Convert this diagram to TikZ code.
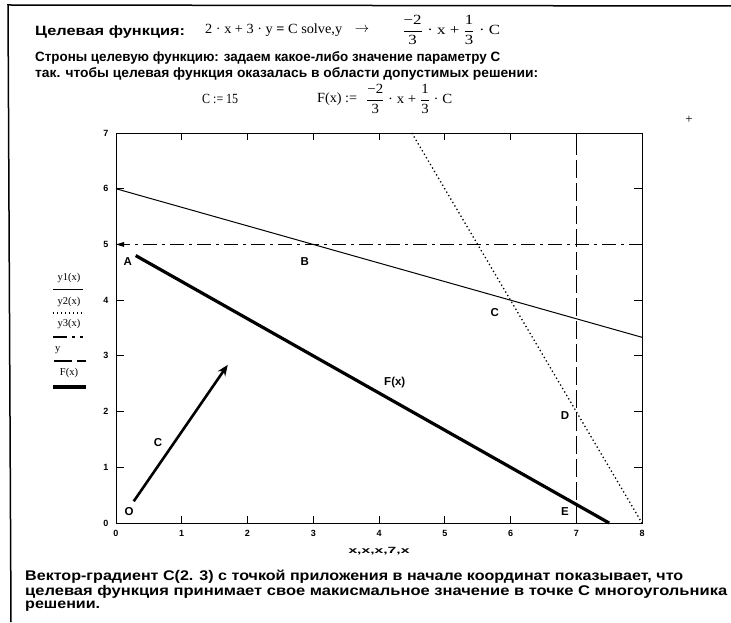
\documentclass[tikz,border=0pt]{standalone}
\usepackage{fontspec}
\usepackage{graphicx}
\setmainfont{Liberation Serif}
\newfontfamily\rus{Liberation Sans}
\usetikzlibrary{arrows.meta}
\newcommand\mfrac[2]{$\displaystyle\frac{\hbox{#1}}{\hbox{#2}}$}
\newcommand\fitw[2]{\resizebox{#1}{\height}{#2}}
\tikzset{
  rustxt/.style={font=\rus\bfseries\fontsize{13.5}{15}\selectfont, anchor=west, inner sep=0pt},
  bottxt/.style={font=\rus\bfseries\fontsize{14}{16}\selectfont, anchor=west, inner sep=0pt},
  mathtxt/.style={font=\fontsize{14}{16}\selectfont, anchor=west, inner sep=0pt},
  ticklbl/.style={font=\rus\bfseries\fontsize{9}{10}\selectfont, inner sep=0pt},
  ptlbl/.style={font=\rus\bfseries\fontsize{11.5}{12}\selectfont, inner sep=0pt},
  leglbl/.style={font=\fontsize{10.5}{12}\selectfont, inner sep=0pt},
  lineA/.style={line width=1pt},
  lineB/.style={line width=1.3pt, dash pattern=on 1.3pt off 2.7pt},
  lineC/.style={line width=1.3pt, dash pattern=on 14pt off 5pt on 3pt off 5pt},
  lineD/.style={line width=1.3pt, dash pattern=on 18pt off 5pt},
  lineF/.style={line width=3.2pt},
}
\begin{document}
\begin{tikzpicture}[x=1pt,y=1pt]
\useasboundingbox (0,0) rectangle (731,622);
\fill[white] (0,0) rectangle (731,622);
% page frame
\coordinate (tl) at (8,617);
\coordinate (tr) at (731,616);
\coordinate (bl) at (11,0);
\draw[line width=1.5pt] (tr) -- (tl) -- (bl);

% top text
\node[rustxt] (t1) at (35,590) {\fitw{150pt}{Целевая функция:}};
\node[mathtxt] (m1a) at (205,592) {\fitw{137pt}{2 · x + 3 · y \textbf{=} C solve,y}};
\node[mathtxt, anchor=center] (m1b) at (362,592) {$\rightarrow$};
\node[mathtxt] (m1c) at (402,592) {\fitw{98pt}{\mfrac{−2}{3} · x + \mfrac{1}{3} · C}};
\node[rustxt] (t2) at (35,564) {\fitw{465pt}{Строны целевую функцию: задаем какое-либо значение параметру С}};
\node[rustxt] (t3) at (35,548) {\fitw{503pt}{так. чтобы целевая функция оказалась в области допустимых решении:}};
\node[mathtxt] (m2) at (202,523) {\fitw{36pt}{C := 15}};
\node[mathtxt] (m3a) at (317,523) {\fitw{40pt}{F(x) :=}};
\node[mathtxt] (m3b) at (366,523) {\fitw{86pt}{\mfrac{−2}{3} · x + \mfrac{1}{3} · C}};
\node[font=\fontsize{13}{14}\selectfont, inner sep=0pt] (plus) at (689,502) {+};

% legend
\node[leglbl] (l1) at (69,344) {y1(x)};
\coordinate (l1a) at (53,332); \coordinate (l1b) at (83,332);
\draw[lineA] (l1a) -- (l1b);
\node[leglbl] (l2) at (69,320) {y2(x)};
\coordinate (l2a) at (53,309); \coordinate (l2b) at (83,309);
\draw[lineB] (l2a) -- (l2b);
\node[leglbl] (l3) at (69,298) {y3(x)};
\coordinate (l3a) at (53,285); \coordinate (l3b) at (83,285);
\draw[lineC] (l3a) -- (l3b);
\node[leglbl, anchor=west] (l4) at (55,272) {y};
\coordinate (l4a) at (54,261); \coordinate (l4b) at (86,261);
\draw[lineD] (l4a) -- (l4b);
\node[leglbl] (l5) at (69,249) {F(x)};
\coordinate (l5a) at (53,235); \coordinate (l5b) at (86,235);
\draw[lineF] (l5a) -- (l5b);

% plot
\begin{scope}[shift={(116,99)}, x=65.75pt, y=55.71pt]
  \draw[line width=1pt] (0,0) rectangle (8,7);
  \foreach \i in {1,...,7} {
    \draw[line width=0.9pt] (\i,0) -- ++(0,7pt);
    \draw[line width=0.9pt] (\i,7) -- ++(0,-7pt);
  }
  \foreach \j in {1,...,6} {
    \draw[line width=0.9pt] (0,\j) -- ++(8pt,0);
    \draw[line width=0.9pt] (8,\j) -- ++(-8pt,0);
  }
  \foreach \i in {0,...,8} { \node[ticklbl] (xt\i) at (\i,-10pt) {\i}; }
  \foreach \j in {0,...,7} { \node[ticklbl] (yt\j) at (-10pt,\j) {\j}; }
  \node[ticklbl] (xtitle) at (4,-28pt) {\fitw{61pt}{x,x,x,7,x}};

  % y1
  \coordinate (a1) at (0,6); \coordinate (b1) at (8,10/3);
  \draw[lineA] (a1) -- (b1);
  % y2
  \coordinate (a2) at (4.5,7); \coordinate (b2) at (8,0);
  \draw[lineB] (a2) -- (b2);
  % y3
  \coordinate (a3) at (0,5); \coordinate (b3) at (8,5);
  \draw[lineC] (a3) -- (b3);
  \fill (a3) -- ++(8pt,2.5pt) -- ++(0,-5pt) -- cycle;
  % x = 7
  \coordinate (a4) at (7,0); \coordinate (b4) at (7,7);
  \draw[lineD] (a4) -- (b4);
  % F(x)
  \coordinate (a5) at (0.3,4.8); \coordinate (b5) at (7.5,0);
  \draw[lineF] (a5) -- (b5);
  % gradient
  \coordinate (g0) at (0.27,0.39); \coordinate (g1) at (1.70,2.84);
  \draw[line width=2.6pt, -{Stealth[length=11pt,width=9pt]}] (g0) -- (g1);

  \node[ptlbl] (pA) at (0.18,4.70) {A};
  \node[ptlbl] (pB) at (2.87,4.70) {B};
  \node[ptlbl] (pC) at (5.76,3.77) {C};
  \node[ptlbl] (pD) at (6.83,1.92) {D};
  \node[ptlbl] (pE) at (6.83,0.20) {E};
  \node[ptlbl] (pO) at (0.20,0.20) {O};
  \node[ptlbl] (pG) at (0.64,1.44) {C};
  \node[ptlbl] (pF) at (4.24,2.53) {F(x)};
\end{scope}

% bottom text
\node[bottxt] (b1t) at (25,45) {\fitw{658pt}{Вектор-градиент С(2. 3) с точкой приложения в начале координат показывает, что}};
\node[bottxt] (b2t) at (25,30) {\fitw{702pt}{целевая функция принимает свое макисмальное значение в точке С многоугольника}};
\node[bottxt] (b3t) at (25,16) {\fitw{75pt}{решении.}};
\end{tikzpicture}
\end{document}
